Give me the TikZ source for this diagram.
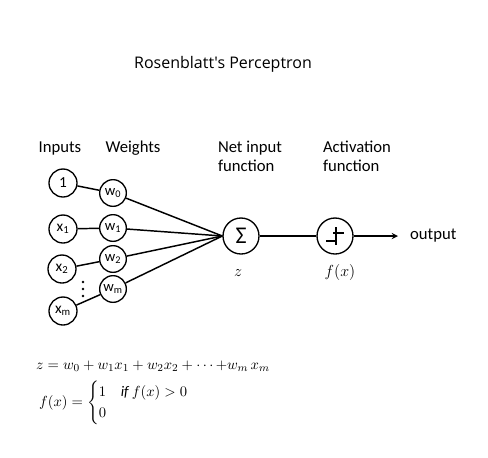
\documentclass[tikz,border=0pt]{standalone}
\usepackage{fontspec}
\usepackage{amsmath}
\setmainfont{Carlito}
\newfontfamily\titlefont{Open Sans}
\tikzset{
	inp/.style={circle,draw=black,line width=1pt,minimum size=21pt,inner sep=0pt,font=\fontsize{11.5}{13}\selectfont},
	wgt/.style={circle,draw=black,line width=1pt,minimum size=20pt,inner sep=0pt,font=\fontsize{11}{13}\selectfont},
	unit/.style={circle,draw=black,line width=1pt,minimum size=27pt,inner sep=0pt},
	lbl/.style={align=left,font=\fontsize{12.5}{14}\selectfont}
}
\begin{document}
\begin{tikzpicture}[x=0.75pt,y=-0.75pt,line width=1.1pt]
	\useasboundingbox (0,0) rectangle (488,457);
	\node[font=\titlefont\fontsize{12}{14}\selectfont] (title) at (223,64) {Rosenblatt's Perceptron};
	\node[lbl] (linp) at (60,148) {Inputs};
	\node[lbl] (lwgt) at (133,148) {Weights};
	\node[lbl] (lnet) at (250,156) {Net input\\function};
	\node[lbl] (lact) at (357,156) {Activation\\function};
	% inputs
	\node[inp] (x0) at (63,183) {1};
	\node[inp] (x1) at (63,229) {x\textsubscript{1}};
	\node[inp] (x2) at (62,269) {x\textsubscript{2}};
	\node[inp] (xm) at (63,311) {x\textsubscript{m}};
	\foreach \y in {282,289,296}
		\fill (83,\y) circle (1.1pt);
	% weights
	\node[wgt] (w0) at (113,193) {w\textsubscript{0}}
		edge[-] (x0);
	\node[wgt] (w1) at (113,228) {w\textsubscript{1}}
		edge[-] (x1);
	\node[wgt] (w2) at (113,259) {w\textsubscript{2}}
		edge[-] (x2);
	\node[wgt] (wm) at (113,289) {w\textsubscript{m}}
		edge[-] (xm);
	% units
	\node[unit,font=\fontsize{18}{19}\selectfont] (sum) at (241,236) {Σ};
	\node[unit] (act) at (335,236) {};
	\draw (act.center) ++(1,-9) -- ++(0,18);
	\draw (act.center) ++(-2,-3) -- ++(11,0);
	\draw (act.center) ++(-9,5) -- ++(11,0);
	\foreach \w in {w0,w1,w2,wm}
		\draw (\w) -- (sum.west);
	\draw (sum) -- (act);
	\coordinate (out) at (398,236);
	\draw[-stealth] (act) -- (out);
	\node[lbl,anchor=west] (lout) at (405,236) {output};
	\node[font=\large] (z) at (238,273) {$z$};
	\node[font=\large] (fx) at (340,272) {$f(x)$};
	% formulas
	\node[anchor=west,font=\fontsize{11}{13}\selectfont] (eqz) at (31,366) {$z = w_0 + w_1x_1 + w_2x_2 + \cdots {+} w_m\, x_m$};
	\node[anchor=west,font=\fontsize{11}{13}\selectfont] (eqf) at (34,403) {$f(x) = \begin{cases}1 & \mathit{if}\ f(x) > 0\\ 0 & \end{cases}$};
\end{tikzpicture}
\end{document}
